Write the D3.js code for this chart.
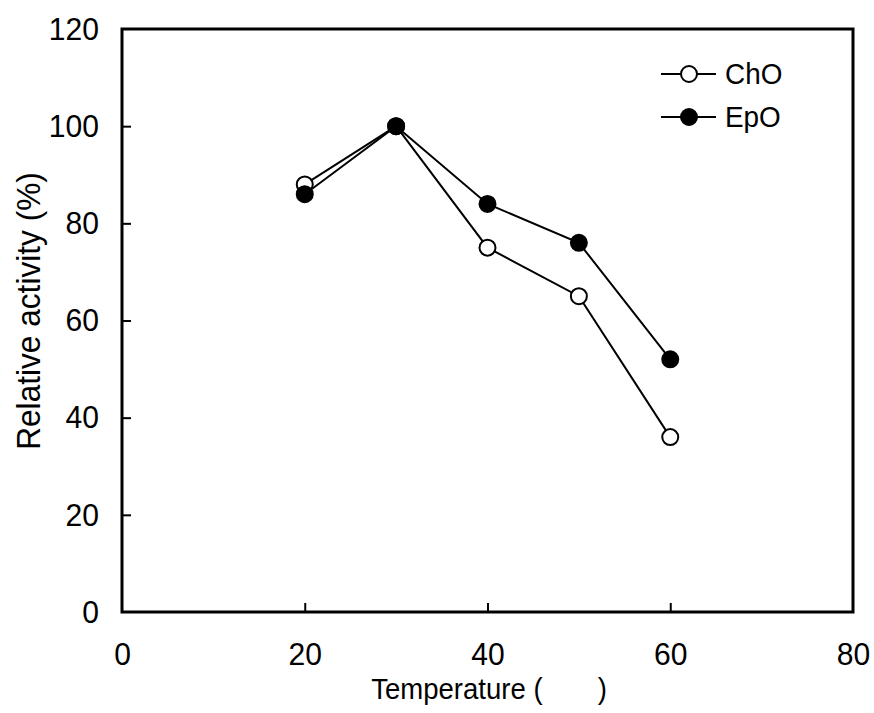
<!DOCTYPE html>
<html>
<head>
<meta charset="utf-8">
<script src="https://cdn.jsdelivr.net/npm/d3@7"></script>
<style>
  body { margin: 0; background: white; }
  text { font-family: Arial, "Liberation Sans", sans-serif; fill: black; }
</style>
</head>
<body>
<svg id="chart" width="874" height="713"></svg>
<script>
// data
const temps = [20, 30, 40, 50, 60];
const cho = [88, 100, 75, 65, 36];
const epo = [86, 100, 84, 76, 52];
const xTicks = [0, 20, 40, 60, 80];
const yTicks = [0, 20, 40, 60, 80, 100, 120];
const seriesNames = ["ChO", "EpO"];

var svg = d3.select("#chart");
const margin = {left: 122, right: 21, top: 29, bottom: 101};
const W = 874, H = 713;

let x = d3.scaleLinear().domain([0, 80]).range([margin.left, W - margin.right]);
let y = d3.scaleLinear().domain([0, 120]).range([H - margin.bottom, margin.top]);

// the original font is a bit taller than wide, squeeze text horizontally
function squeeze(sel, k) {
    sel.each(function() {
        const t = d3.select(this);
        const tx = +t.attr("x") || 0;
        t.attr("transform", `translate(${tx},0) scale(${k},1) translate(${-tx},0)`);
    });
}

// frame
svg.append("rect")
    .attr("x", x(0)).attr("y", y(120))
    .attr("width", x(80) - x(0)).attr("height", y(0) - y(120))
    .attr("fill", "none").attr("stroke", "black").attr("stroke-width", 3);

// axes, ticks pointing inward
var xAxis = svg.append("g")
    .attr("transform", `translate(0,${y(0)})`)
    .call(d3.axisBottom(x).tickValues(xTicks).tickSizeInner(-9).tickSizeOuter(0).tickPadding(30));
var yAxis = svg.append("g")
    .attr("transform", `translate(${x(0)},0)`)
    .call(d3.axisLeft(y).tickValues(yTicks).tickSizeInner(-9).tickSizeOuter(0).tickPadding(23));

[xAxis, yAxis].forEach(a => {
    a.select(".domain").remove();
    a.selectAll(".tick line").attr("stroke", "black").attr("stroke-width", 2);
    a.selectAll(".tick text")
        .style("font-size", "32px")
        .style("font-family", "Arial, 'Liberation Sans', sans-serif")
        .attr("fill", "black")
        .call(squeeze, 0.94);
});
// no tick marks on the corners, they sit on the frame
xAxis.selectAll(".tick").filter(d => d == 0 || d == 80).select("line").remove();
yAxis.selectAll(".tick").filter(d => d == 0 || d == 120).select("line").remove();

// axis titles (the degree sign is missing in the original, left blank)
svg.append("text")
    .attr("x", 489).attr("y", 699)
    .attr("text-anchor", "middle")
    .style("font-size", "29px")
    .text("Temperature (\u2003\u2003)")
    .call(squeeze, 0.95);

svg.append("text")
    .attr("transform", "translate(40,311) rotate(-90) scale(0.93,1)")
    .attr("text-anchor", "middle")
    .style("font-size", "34px")
    .text("Relative activity (%)");

// lines + markers
const line = d3.line().x(d => x(d[0])).y(d => y(d[1]));
const series = [
    {name: seriesNames[0], vals: cho, fill: "white"},
    {name: seriesNames[1], vals: epo, fill: "black"}
];

series.forEach(s => {
    const pts = temps.map((t, i) => [t, s.vals[i]]);
    svg.append("path")
        .datum(pts)
        .attr("d", line)
        .attr("fill", "none")
        .attr("stroke", "black")
        .attr("stroke-width", 2);
});
series.forEach(s => {
    const pts = temps.map((t, i) => [t, s.vals[i]]);
    svg.selectAll(null)
        .data(pts)
        .join("circle")
        .attr("cx", d => x(d[0]))
        .attr("cy", d => y(d[1]))
        .attr("r", 8)
        .attr("fill", s.fill)
        .attr("stroke", "black")
        .attr("stroke-width", 2);
});

// legend
var legend = svg.append("g");
series.forEach((s, i) => {
    const ly = 74 + i * 43;
    legend.append("line")
        .attr("x1", 661).attr("x2", 716)
        .attr("y1", ly).attr("y2", ly)
        .attr("stroke", "black").attr("stroke-width", 2);
    legend.append("circle")
        .attr("cx", 689).attr("cy", ly).attr("r", 8)
        .attr("fill", s.fill).attr("stroke", "black").attr("stroke-width", 2);
    legend.append("text")
        .attr("x", 725).attr("y", ly + 10)
        .style("font-size", "30px")
        .text(s.name)
        .call(squeeze, 0.93);
});
</script>
</body>
</html>
